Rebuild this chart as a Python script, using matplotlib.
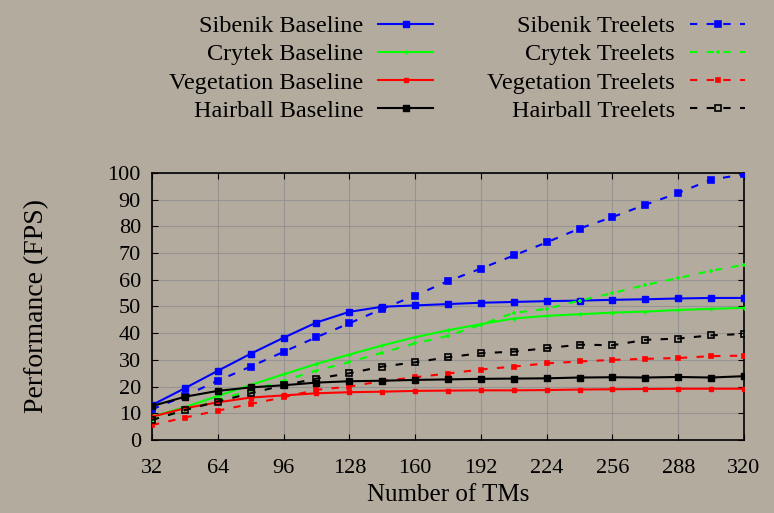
import numpy as np
import matplotlib
matplotlib.use('Agg')
import matplotlib.pyplot as plt

# number of TMs (x axis)
aTMs = list(range(32, 321, 16))

# performance in FPS
aSibenik_base = [13.1, 19.4, 25.9, 32.3, 38.3, 44.0, 48.0, 49.9, 50.4, 50.9,
                 51.4, 51.7, 52.0, 52.2, 52.5, 52.7, 53.0, 53.2, 53.2]
aSibenik_tree = [11.5, 16.5, 22.2, 27.5, 33.0, 38.5, 43.7, 49.1, 54.1, 59.5,
                 64.2, 69.1, 74.0, 79.2, 83.5, 88.1, 92.5, 97.5, 99.5]
aCrytek_base = [8.7, 12.3, 16.5, 20.6, 24.6, 28.5, 32.0, 35.4, 38.5, 41.1,
                43.4, 45.5, 46.5, 47.1, 47.7, 48.1, 48.7, 49.1, 49.5]
aCrytek_tree = [7.5, 11.2, 15.0, 18.6, 22.2, 26.0, 29.2, 32.7, 36.2, 39.0,
                43.2, 47.6, 49.1, 52.2, 55.0, 58.1, 60.6, 63.4, 65.6]
aVeget_base = [8.7, 11.9, 14.1, 15.9, 16.7, 17.5, 17.9, 18.1, 18.4, 18.5,
               18.6, 18.6, 18.7, 18.9, 19.0, 19.1, 19.2, 19.2, 19.2]
aVeget_tree = [5.6, 8.4, 11.0, 13.5, 16.0, 18.8, 20.0, 22.1, 23.5, 24.9,
               26.4, 27.5, 28.7, 29.4, 30.0, 30.4, 30.7, 31.4, 31.6]
aHair_base = [12.7, 16.2, 18.4, 19.7, 20.5, 21.5, 22.0, 22.2, 22.5, 22.7,
              22.9, 23.0, 23.1, 23.4, 23.5, 23.4, 23.6, 23.4, 23.9]
aHair_tree = [7.5, 11.2, 14.4, 17.5, 20.5, 23.0, 25.0, 27.5, 29.1, 31.0,
              32.5, 33.1, 34.4, 35.7, 35.5, 37.5, 38.0, 39.2, 39.7]

aScene = ['Sibenik', 'Crytek', 'Vegetation', 'Hairball']
aColor = ['#0000ff', '#00ff00', '#ff0000', '#000000']
aBase = [aSibenik_base, aCrytek_base, aVeget_base, aHair_base]
aTree = [aSibenik_tree, aCrytek_tree, aVeget_tree, aHair_tree]
aMarker = ['s', '+', 's', 's']
aMsize = [4.5, 3.5, 3.5, 4.0]

sBack = '#b4ab9f'
plt.rcParams['font.family'] = ['Liberation Serif', 'DejaVu Serif']

fig = plt.figure(figsize=(7.74, 5.13), dpi=100, facecolor=sBack)
ax = fig.add_axes([0.1964, 0.1423, 0.9612 - 0.1964, 0.6628 - 0.1423])
ax.set_facecolor(sBack)

aHandle_base = []
aHandle_tree = []
for i in range(len(aScene)):
    l1, = ax.plot(aTMs, aBase[i], color=aColor[i], lw=1.5, marker=aMarker[i],
                  ms=aMsize[i], label=aScene[i] + ' Baseline', zorder=3)
    mfc = 'none' if aScene[i] == 'Hairball' else aColor[i]
    l2, = ax.plot(aTMs, aTree[i], color=aColor[i], lw=1.5, marker=aMarker[i],
                  ms=aMsize[i], mfc=mfc, mew=1.2, dashes=(3.5, 4.5),
                  label=aScene[i] + ' Treelets', zorder=3)
    aHandle_base.append(l1)
    aHandle_tree.append(l2)

ax.set_xlim(32, 320)
ax.set_ylim(0, 100)
ax.set_xticks(range(32, 321, 32))
ax.set_yticks(range(0, 101, 10))
ax.grid(True, color='#8e8e8e', lw=0.8, alpha=0.75)
ax.set_axisbelow(True)
for s in ax.spines.values():
    s.set_color('black')
    s.set_linewidth(1.2)
ax.tick_params(direction='in', length=4, width=0.8, labelsize=16,
               top=True, right=True)
ax.tick_params(axis='x', pad=14)
ax.tick_params(axis='y', pad=8)
ax.set_xlabel('Number of TMs', fontsize=18, labelpad=4)
ax.set_ylabel('Performance (FPS)', fontsize=20, labelpad=42)

fig.legend(aHandle_base + aHandle_tree,
           [h.get_label() for h in aHandle_base + aHandle_tree],
           ncol=2, loc='upper right', bbox_to_anchor=(745 / 774, 0.970),
           frameon=False, markerfirst=False, fontsize=17.5,
           handlelength=2.26, handletextpad=0.62, columnspacing=2.22,
           labelspacing=0.25, borderpad=0, borderaxespad=0)

fig.savefig('out.png', dpi=100, facecolor=sBack)
